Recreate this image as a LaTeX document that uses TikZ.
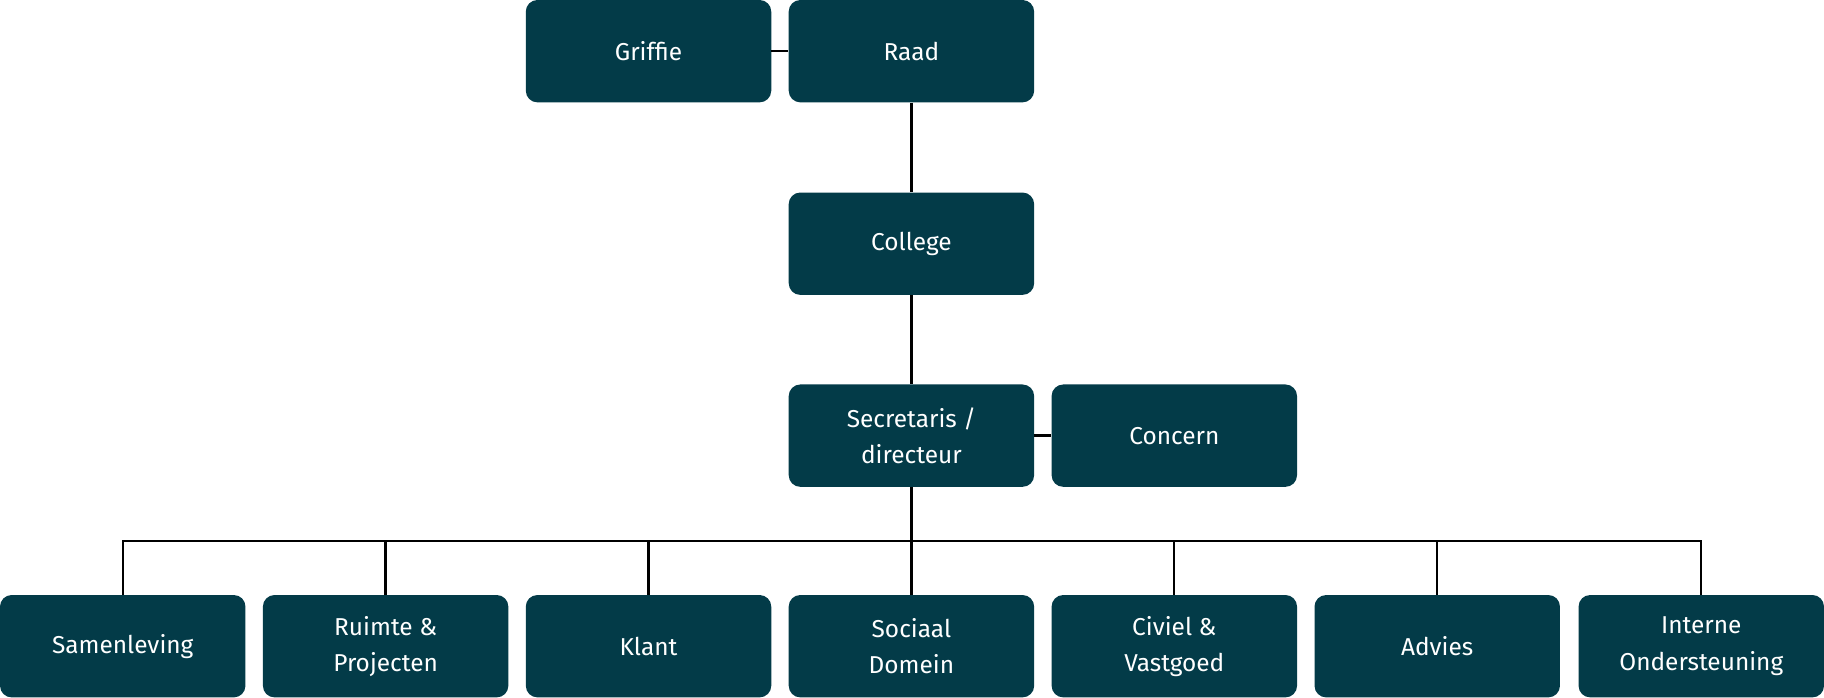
\documentclass[tikz,border=0pt]{standalone}
\usepackage{fontspec}
\setmainfont{Fira Sans}
\definecolor{teal}{HTML}{033B48}
\begin{document}
\begin{tikzpicture}[x=1pt,y=-1pt,
 box/.style={fill=teal,rounded corners=10pt,minimum width=211pt,minimum height=88pt,inner sep=0pt,
  text=white,align=center,font=\fontsize{21}{31}\selectfont},
 ln/.style={line width=2pt,black}]
\useasboundingbox (0,0) rectangle (1568,600);
\node[box] (griffie) at (557.5,44) {Griffie};
\node[box] (raad) at (783.5,44) {Raad};
\node[box] (college) at (783.5,209.5) {College};
\node[box] (secr) at (783.5,374.5) {Secretaris /\\directeur};
\node[box] (concern) at (1009.5,374.5) {Concern};
\coordinate (bus) at (783.5,465);
\foreach \n/\x/\t in {samen/105.5/Samenleving, ruimte/331.5/{Ruimte \&\\Projecten}, klant/557.5/Klant, sociaal/783.5/{Sociaal\\Domein}, civiel/1009.5/{Civiel \&\\Vastgoed}, advies/1235.5/Advies, interne/1462.5/{Interne\\Ondersteuning}}
 {\node[box] (\n) at (\x,555.5) {\t};}
\draw[ln] (griffie) -- (raad);
\draw[ln] (raad) -- (college);
\draw[ln] (college) -- (secr);
\draw[ln] (secr) -- (concern);
\draw[ln] (secr) -- (bus);
\draw[ln] (samen.north) |- (bus) -| (interne.north);
\foreach \n in {ruimte,klant,sociaal,civiel,advies}
 {\draw[ln] (\n.north) -- (\n.north |- bus);}
\end{tikzpicture}
\end{document}
